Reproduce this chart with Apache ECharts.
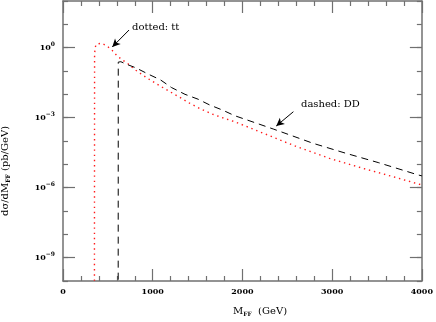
<!DOCTYPE html>
<html>
<head>
<meta charset="utf-8">
<script src="https://cdn.jsdelivr.net/npm/echarts@6/dist/echarts.min.js"></script>
<style>
  html, body { margin: 0; padding: 0; background: #fff; }
  #chart { width: 436px; height: 322px; }
</style>
</head>
<body>
<div id="chart"></div>
<script>
  // tt (dotted) curve
  var ttMass = [350, 352, 358, 370, 390, 430, 470, 500, 550, 600, 660, 720, 800, 940, 1050, 1180, 1290, 1410, 1540, 1670, 1800, 1910, 2240, 2600, 2970, 3340, 3700, 4000]
  var ttXsec = [1e-12, 0.5, 1.0, 1.4, 1.6, 1.55, 1.3, 1.1, 0.75, 0.46, 0.30, 0.21, 0.115, 0.049, 0.027, 0.0138, 0.0079, 0.0042, 0.0023, 0.0014, 9.3e-4, 6.8e-4, 2.1e-4, 5.8e-5, 1.8e-5, 6.8e-6, 2.8e-6, 1.3e-6]

  // DD (dashed) curve
  var ddMass = [615, 616, 645, 700, 810, 955, 1085, 1210, 1360, 1505, 1635, 1780, 1910, 2350, 2790, 3150, 3520, 3960, 4000]
  var ddXsec = [1e-12, 0.24, 0.25, 0.2, 0.138, 0.072, 0.042, 0.0195, 0.01, 0.0062, 0.0035, 0.0021, 0.00123, 3.2e-4, 7.9e-5, 3.0e-5, 1.17e-5, 3.5e-6, 3.2e-6]

  var yMajor = [1e-9, 1e-6, 1e-3, 1]
  var yDecades = [1e-10, 1e-9, 1e-8, 1e-7, 1e-6, 1e-5, 1e-4, 1e-3, 1e-2, 1e-1, 1, 10, 100]

  var axisGrey = '#707070'
  var font = 'DejaVu Serif'

  function pairs(xs, ys) {
    return xs.map(function (x, i) { return [x, ys[i]] })
  }

  // 10^n label
  function powLabel(v) {
    var e = Math.round(Math.log10(v))
    var s = e < 0 ? '\u2212' + (-e) : '' + e
    return '{b|10}{s|' + s + '}'
  }

  function yAxisOf(pos, major) {
    return {
      type: 'log',
      logBase: 10,
      min: 1e-10,
      max: 100,
      position: pos,
      axisLine: { show: major, lineStyle: { color: axisGrey, width: 1.5 } },
      axisTick: {
        show: true,
        inside: true,
        length: major ? 12 : 5,
        customValues: major ? yMajor : yDecades,
        lineStyle: { color: axisGrey, width: 1.2 }
      },
      axisLabel: {
        show: major && pos === 'left',
        customValues: yMajor,
        formatter: powLabel,
        margin: 8,
        rich: {
          b: { fontFamily: font, fontSize: 8, color: '#000', fontWeight: 'bold' },
          s: { fontFamily: font, fontSize: 6, color: '#000', fontWeight: 'bold', verticalAlign: 'top', padding: [0, 0, 6, 0] }
        }
      },
      splitLine: { show: false },
      minorTick: { show: false }
    }
  }

  function xAxisOf(pos) {
    return {
      type: 'value',
      min: 0,
      max: 4000,
      interval: 1000,
      position: pos,
      axisLine: { show: true, lineStyle: { color: axisGrey, width: 1.5 } },
      axisTick: { inside: true, length: 12, lineStyle: { color: axisGrey, width: 1.2 } },
      minorTick: { show: true, splitNumber: 5, length: 5, lineStyle: { color: axisGrey, width: 1.2 } },
      axisLabel: {
        show: pos === 'bottom',
        formatter: function (v) { return String(v) },
        fontFamily: font,
        fontSize: 8,
        fontWeight: 'bold',
        color: '#000',
        margin: 7
      },
      splitLine: { show: false }
    }
  }

  var myChart = echarts.init(document.getElementById('chart'))

  var option = {
    animation: false,
    backgroundColor: '#fff',
    grid: { left: 63, right: 9, top: 1, bottom: 41, containLabel: false },
    xAxis: [xAxisOf('bottom'), xAxisOf('top')],
    yAxis: [yAxisOf('left', true), yAxisOf('left', false), yAxisOf('right', true), yAxisOf('right', false)],
    series: [
      {
        name: 'tt',
        type: 'line',
        showSymbol: false,
        data: pairs(ttMass, ttXsec),
        lineStyle: { color: '#ff1a1a', width: 1.4, type: [1.4, 3.8] }
      },
      {
        name: 'DD',
        type: 'line',
        showSymbol: false,
        data: pairs(ddMass, ddXsec),
        lineStyle: { color: '#000', width: 1, type: [7, 5] }
      },
      {
        // arrows of the two notes
        type: 'line',
        data: [],
        markLine: {
          silent: true,
          symbol: ['none', 'arrow'],
          symbolSize: [6, 8],
          label: { show: false },
          lineStyle: { color: '#000', width: 1, type: 'solid' },
          data: [
            [{ coord: [736, 5.7] }, { coord: [549, 1.07] }],
            [{ coord: [2568, 1.8e-3] }, { coord: [2377, 4.4e-4] }]
          ]
        }
      }
    ],
    graphic: [
      {
        type: 'text',
        left: 132, top: 22,
        style: { text: 'dotted: tt', fontFamily: font, fontSize: 10, fill: '#000' }
      },
      {
        type: 'text',
        left: 301, top: 99,
        style: { text: 'dashed: DD', fontFamily: font, fontSize: 10, fill: '#000' }
      },
      {
        type: 'text',
        x: 233, y: 306,
        style: {
          text: '{n|M}{sub|FF}{n|  (GeV)}',
          rich: {
            n: { fontFamily: font, fontSize: 10, fill: '#000' },
            sub: { fontFamily: font, fontSize: 6, fontWeight: 'bold', fill: '#000', padding: [5, 0, 0, 0] }
          }
        }
      },
      {
        type: 'text',
        x: 0, y: 216,
        rotation: Math.PI / 2,
        style: {
          text: '{n|d\u03c3/dM}{sub|FF}{n| (pb/GeV)}',
          rich: {
            n: { fontFamily: font, fontSize: 10, fill: '#000' },
            sub: { fontFamily: font, fontSize: 6, fontWeight: 'bold', fill: '#000', padding: [5, 0, 0, 0] }
          }
        }
      }
    ]
  }

  myChart.setOption(option)
</script>
</body>
</html>
